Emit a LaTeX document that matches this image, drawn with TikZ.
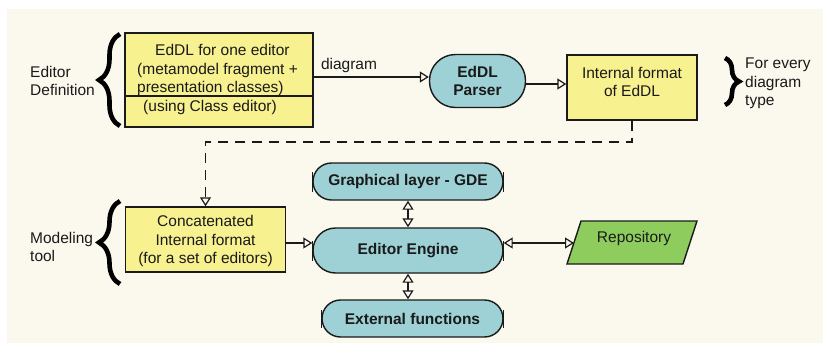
\documentclass[tikz,border=0pt]{standalone}
\usepackage{fontspec}
\setmainfont{Liberation Sans}
\usetikzlibrary{arrows.meta,decorations.pathreplacing,calc}
\definecolor{bgc}{HTML}{FBF8EE}
\definecolor{yel}{HTML}{F7F18F}
\definecolor{tealc}{HTML}{9DD1D5}
\definecolor{grn}{HTML}{8FCC5E}
\definecolor{ink}{HTML}{1A1A1A}
\tikzset{
  lbl/.style={font=\fontsize{15.5}{18.5}\selectfont, inner sep=0pt, text=ink},
  ybox/.style={draw=ink, line width=1.4pt, fill=yel, inner sep=0pt},
  pill/.style={draw=ink, line width=1.4pt, fill=tealc, inner sep=0pt, text=ink,
    font=\bfseries\fontsize{15.5}{18.5}\selectfont, align=center},
  conn/.style={draw=ink, line width=1.2pt},
  tip/.style={-{Triangle[open, length=9pt, width=11pt, line width=1.2pt]}},
  dtip/.style={{Triangle[open, length=9pt, width=11pt, line width=1.2pt]}-{Triangle[open, length=9pt, width=11pt, line width=1.2pt]}},
  brc/.style={decorate, decoration={brace, amplitude=#1}, line width=4.6pt, draw=black},
  tick/.style={draw=ink, line width=1.4pt}
}
\begin{document}
\begin{tikzpicture}[x=1pt, y=-1pt]
\useasboundingbox (0,0) rectangle (823,343);
\fill[bgc] (7,9) rectangle (823,343);

% top row
\node[ybox, minimum width=188pt, minimum height=94pt] (box1) at (219,80) {};
\draw[conn, line width=1.4pt] (box1.west |- 0,96) -- (box1.east |- 0,96);
\node[lbl, align=left, anchor=west] (box1top) at (137,70) {\hspace*{18pt}EdDL for one editor\\(metamodel fragment +\\presentation classes)};
\node[lbl] (box1bot) at (210,107) {(using Class editor)};

\node[pill, minimum width=96pt, minimum height=53pt, rounded corners=26pt] (parser) at (477.5,81) {EdDL\\Parser};
\node[ybox, minimum width=130pt, minimum height=65pt] (internal) at (632,87.5) {};
\node[lbl, align=center] (internaltxt) at (632,82) {Internal format\\of EdDL};

\draw[conn, tip] (box1.east |- 0,77) -- (parser.west |- 0,77);
\node[lbl] (diaglab) at (349,65) {diagram};
\draw[conn, tip] (parser.east |- 0,84) -- (internal.west |- 0,84);

% braces and side labels
\draw[brc=21pt] (120,126) -- (120,34);
\node[lbl, align=left, anchor=west] (edlab) at (30,81) {Editor\\Definition};
\draw[brc=14pt] (725,58) -- (725,105);
\node[lbl, align=left, anchor=west] (fedlab) at (745,83.5) {For every\\diagram\\type};
\draw[brc=21pt] (120,284) -- (120,201);
\node[lbl, align=left, anchor=west] (mtlab) at (30,247) {Modeling\\tool};

% bottom part
\node[ybox, minimum width=160pt, minimum height=65pt] (concat) at (205.5,239.5) {};
\node[lbl, align=center] (concattxt) at (205.5,241) {Concatenated\\Internal format\\(for a set of editors)};

\node[pill, minimum width=190pt, minimum height=37pt, rounded corners=18.5pt] (gde) at (408,181.5) {Graphical layer - GDE};
\node[pill, minimum width=190pt, minimum height=45pt, rounded corners=22.5pt] (engine) at (408,250.5) {Editor Engine};
\node[pill, minimum width=181pt, minimum height=37pt, rounded corners=18.5pt] (ext) at (412.5,318.5) {External functions};

\foreach \n/\h in {gde/10, engine/10, ext/9}{
  \draw[tick] ([yshift=-\h pt]\n.west) -- ([yshift=\h pt]\n.west);
  \draw[tick] ([yshift=-\h pt]\n.east) -- ([yshift=\h pt]\n.east);
}

\coordinate (r1) at (581,221);
\coordinate (r2) at (697,221);
\coordinate (r3) at (683,264);
\coordinate (r4) at (567,264);
\draw[fill=grn, draw=ink, line width=1.4pt] (r1) -- (r2) -- (r3) -- (r4) -- cycle;
\node[lbl] (repo) at (634,238) {Repository};
\coordinate (repoL) at (574,243);

% connectors
\draw[conn, tip, dash pattern=on 10pt off 7pt] (internal.south) -- (internal.south |- 0,142) -| (concat.north);
\draw[conn, tip] (concat.east |- repoL) -- (engine.west |- repoL);
\draw[conn, dtip] (engine.east |- repoL) -- (repoL);
\draw[conn, dtip] (gde.south) -- (engine.north);
\draw[conn, dtip] (engine.south) -- (engine.south |- ext.north);
\end{tikzpicture}
\end{document}
